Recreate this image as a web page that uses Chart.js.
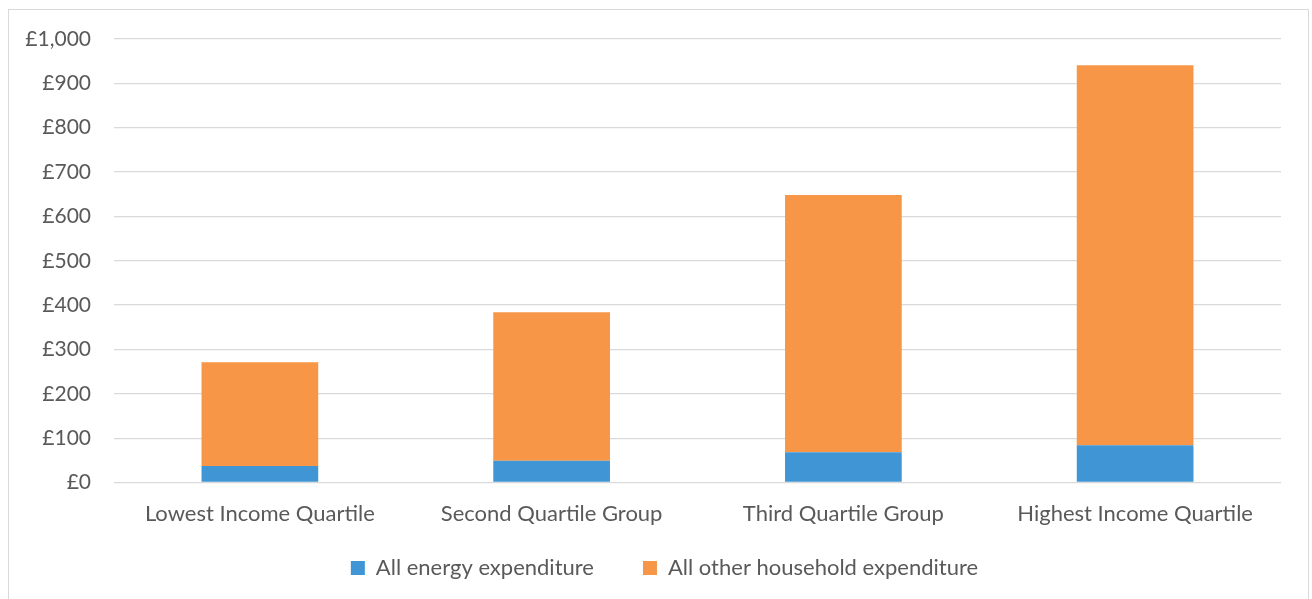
<!DOCTYPE html>
<html>
<head>
<meta charset="utf-8">
<script src="https://cdn.jsdelivr.net/npm/chart.js@4/dist/chart.umd.min.js"></script>
<style>
  html, body { margin: 0; padding: 0; background: #ffffff; }
  #wrap { position: relative; width: 1312px; height: 599px; }
  #frame { position: absolute; left: 8px; top: 9px; width: 1301px; height: 620px;
           border: 1px solid #d9d9d9; box-sizing: border-box; pointer-events: none; }
  canvas { position: absolute; left: 0; top: 0; }
</style>
</head>
<body>
<div id="wrap">
  <canvas id="chart" width="1312" height="599"></canvas>
  <div id="frame"></div>
</div>
<script>
// Weekly household spend by income quartile (£)
const categories = ['Lowest Income Quartile', 'Second Quartile Group', 'Third Quartile Group', 'Highest Income Quartile'];
const energySpend = [37, 49, 68, 84];
const otherSpend = [234, 335, 580, 857];
const seriesNames = ['All energy expenditure', 'All other household expenditure'];
const yTicks = [0, 100, 200, 300, 400, 500, 600, 700, 800, 900, 1000];

const textColor = '#595959';
const gridColor = '#d9d9d9';
const fontFamily = 'Lato, "Open Sans", sans-serif';

// Place the legend row just under the category labels, centred in the frame.
const legendPlacement = {
  id: 'legendPlacement',
  afterLayout(chart) {
    const lg = chart.legend;
    if (!lg) return;
    lg.top = 508;
    lg.bottom = chart.height;
    lg.height = lg.bottom - lg.top;
    lg.left += 24;
    lg.right += 24;
  }
};

new Chart(document.getElementById('chart'), {
  type: 'bar',
  data: {
    labels: categories,
    datasets: [
      { label: seriesNames[0], data: energySpend, backgroundColor: '#4096d4',
        categoryPercentage: 1.0, barPercentage: 0.4 },
      { label: seriesNames[1], data: otherSpend, backgroundColor: '#f79646',
        categoryPercentage: 1.0, barPercentage: 0.4 }
    ]
  },
  plugins: [legendPlacement],
  options: {
    responsive: false,
    animation: false,
    layout: { padding: { top: 39, right: 31, left: 0, bottom: 10.5 } },
    plugins: {
      tooltip: { enabled: false },
      legend: {
        position: 'bottom',
        maxHeight: 60,
        labels: {
          color: textColor,
          font: { family: fontFamily, size: 22 },
          boxWidth: 14, boxHeight: 14, padding: 49
        }
      }
    },
    scales: {
      x: {
        stacked: true,
        grid: { display: false },
        border: { display: false },
        ticks: { color: textColor, font: { family: fontFamily, size: 22 }, padding: 10, maxRotation: 0 },
        afterFit: s => { s.height = 46; }
      },
      y: {
        stacked: true,
        min: 0, max: 1000,
        afterBuildTicks: s => { s.ticks = yTicks.map(v => ({ value: v })); },
        afterFit: s => { s.width = 114; },
        grid: { color: gridColor, lineWidth: 1.3, drawTicks: false },
        border: { display: false },
        ticks: {
          color: textColor, padding: 23,
          font: { family: fontFamily, size: 21 },
          callback: v => '£' + Number(v).toLocaleString('en-GB')
        }
      }
    }
  }
});
</script>
</body>
</html>
